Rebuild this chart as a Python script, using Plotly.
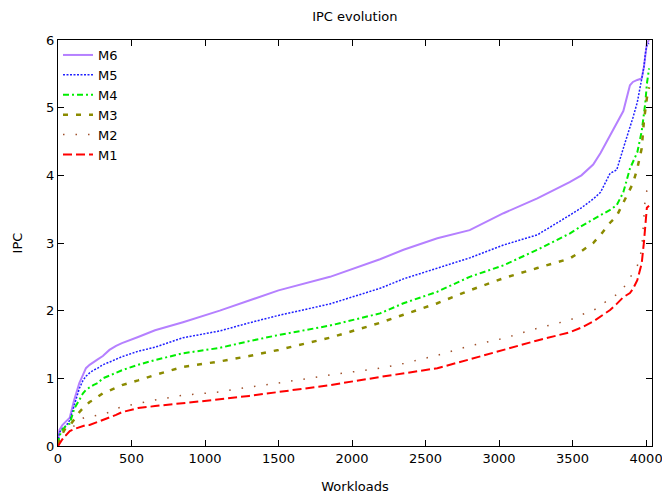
import plotly.graph_objects as go

# Workload index (each series sorted ascending)
workloads = [0, 10, 30, 55, 80, 110, 145, 170, 190, 215, 240, 270, 305, 350, 395, 435, 545, 660,
             850, 1100, 1300, 1500, 1850, 2190, 2350, 2580, 2800, 3030, 3260, 3480, 3560, 3640,
             3690, 3755, 3800, 3845, 3890, 3910, 3940, 3970, 3985, 3995, 4005, 4020]

m6 = [0.09, 0.24, 0.31, 0.36, 0.42, 0.68, 0.93, 1.05, 1.15, 1.20, 1.24, 1.28, 1.33, 1.42, 1.48,
      1.52, 1.61, 1.71, 1.83, 2.00, 2.15, 2.30, 2.50, 2.76, 2.90, 3.07, 3.19, 3.44, 3.66, 3.90,
      4.00, 4.16, 4.33, 4.59, 4.75, 4.95, 5.33, 5.38, 5.41, 5.43, 5.60, 5.80, 5.95, 6.00]
m5 = [0.05, 0.20, 0.26, 0.30, 0.38, 0.60, 0.85, 0.97, 1.03, 1.08, 1.12, 1.15, 1.20, 1.24, 1.28,
      1.32, 1.40, 1.46, 1.60, 1.70, 1.82, 1.93, 2.10, 2.33, 2.47, 2.63, 2.78, 2.97, 3.12, 3.41,
      3.52, 3.65, 3.75, 4.03, 4.08, 4.40, 4.70, 4.85, 5.08, 5.40, 5.60, 5.80, 5.92, 5.95]
m4 = [0.03, 0.15, 0.24, 0.30, 0.33, 0.55, 0.68, 0.78, 0.83, 0.87, 0.90, 0.93, 1.00, 1.04, 1.08,
      1.12, 1.20, 1.27, 1.37, 1.45, 1.55, 1.64, 1.78, 1.96, 2.11, 2.28, 2.50, 2.67, 2.90, 3.14,
      3.25, 3.35, 3.41, 3.49, 3.56, 3.75, 4.10, 4.20, 4.34, 4.65, 4.90, 5.08, 5.35, 5.58]
m3 = [0.02, 0.10, 0.18, 0.28, 0.30, 0.40, 0.50, 0.56, 0.60, 0.65, 0.68, 0.73, 0.78, 0.82, 0.86,
      0.90, 0.97, 1.05, 1.17, 1.25, 1.33, 1.42, 1.60, 1.82, 1.94, 2.11, 2.30, 2.48, 2.63, 2.77,
      2.88, 3.00, 3.12, 3.30, 3.40, 3.60, 3.80, 3.88, 4.10, 4.40, 4.80, 5.00, 5.14, 5.30]
m2 = [0.00, 0.04, 0.10, 0.16, 0.20, 0.30, 0.38, 0.41, 0.43, 0.43, 0.44, 0.45, 0.47, 0.50, 0.55,
      0.58, 0.63, 0.68, 0.75, 0.80, 0.87, 0.93, 1.05, 1.15, 1.22, 1.34, 1.48, 1.59, 1.74, 1.86,
      1.94, 2.00, 2.08, 2.17, 2.24, 2.33, 2.48, 2.55, 2.66, 2.90, 3.30, 3.70, 3.77, 3.80]
m1 = [0.00, 0.04, 0.10, 0.16, 0.22, 0.25, 0.28, 0.30, 0.31, 0.31, 0.33, 0.35, 0.38, 0.42, 0.46,
      0.50, 0.56, 0.59, 0.63, 0.69, 0.74, 0.80, 0.90, 1.02, 1.07, 1.15, 1.28, 1.42, 1.56, 1.68,
      1.75, 1.84, 1.91, 2.01, 2.10, 2.20, 2.26, 2.32, 2.45, 2.70, 3.01, 3.30, 3.52, 3.55]

series_names = ["M6", "M5", "M4", "M3", "M2", "M1"]
series_values = [m6, m5, m4, m3, m2, m1]
styles = {
    "M6": dict(color="#b580ff", width=2, dash="solid"),
    "M5": dict(color="#2020ff", width=1.5, dash="2px,1.5px"),
    "M4": dict(color="#00ee00", width=2, dash="6px,3px,2px,3px"),
    "M3": dict(color="#8b8b00", width=2.5, dash="5px,8px"),
    "M2": dict(color="#a0522d", width=1.5, dash="1.5px,11px"),
    "M1": dict(color="#ff0000", width=2, dash="9px,4px"),
}

font_family = "DejaVu Sans, Liberation Sans, sans-serif"
fs = 13

fig = go.Figure()
for name, vals in zip(series_names, series_values):
    fig.add_trace(go.Scatter(x=workloads, y=vals, mode="lines", name=name,
                             line=styles[name]))

axis_common = dict(showline=True, linecolor="black", linewidth=1, mirror="ticks",
                   ticks="inside", ticklen=6, tickcolor="black", showgrid=False,
                   zeroline=False, automargin=False, ticklabeloverflow="allow",
                   tickfont=dict(size=fs, color="black", family=font_family))

fig.update_layout(
    width=662, height=494,
    margin=dict(l=58, r=10, t=40, b=48),
    paper_bgcolor="white", plot_bgcolor="white",
    font=dict(family=font_family, size=fs, color="black"),
    title=dict(text="IPC evolution", x=0.536, xanchor="center", y=1 - 16 / 494,
               yanchor="middle", font=dict(size=fs)),
    xaxis=dict(range=[0, 4040], tickvals=[0, 500, 1000, 1500, 2000, 2500, 3000, 3500, 4000],
               title=dict(text="Workloads", standoff=18, font=dict(size=fs)), **axis_common),
    yaxis=dict(range=[0, 6], tickvals=[0, 1, 2, 3, 4, 5, 6],
               title=dict(text="IPC", standoff=20, font=dict(size=fs)), **axis_common),
    legend=dict(x=0.0, y=1.0, xanchor="left", yanchor="top", bgcolor="rgba(0,0,0,0)",
                font=dict(size=fs), tracegroupgap=0, traceorder="normal"),
    showlegend=True,
)

fig.write_html("out.html", config={"displayModeBar": False},
               post_script="document.body.style.margin='0';")
